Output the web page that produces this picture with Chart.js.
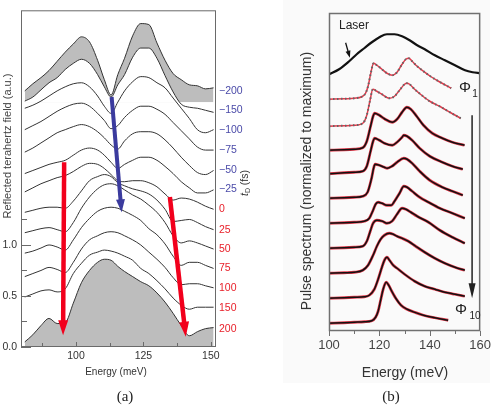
<!DOCTYPE html>
<html><head><meta charset="utf-8">
<script src="https://cdn.jsdelivr.net/npm/chart.js@4.4.1/dist/chart.umd.min.js"></script>
<style>
body{margin:0;background:#fff;width:498px;height:406px;overflow:hidden;position:relative;font-family:"Liberation Sans",Arial,sans-serif;}
.t{position:absolute;white-space:nowrap;line-height:1;transform:translate(-50%,-50%);}
.r{position:absolute;white-space:nowrap;text-align:center;transform:rotate(-90deg);transform-origin:50% 50%;}
#bgB{position:absolute;left:283px;top:0;width:207px;height:383px;background:#fafafa;}
canvas{position:absolute;top:0;}
.cap{font-family:"Liberation Serif","DejaVu Serif",serif;font-size:15px;color:#222;}
</style></head><body>
<div id="bgB"></div>
<canvas id="cA" width="250" height="380" style="left:0"></canvas>
<canvas id="cB" width="248" height="380" style="left:250px"></canvas>

<div class="r" style="left:-83px;top:140px;width:180px;height:12px;line-height:12px;font-size:11px;color:#444">Reflected terahertz field (a.u.)</div>
<div class="t" style="left:116px;top:372px;font-size:10px;color:#333">Energy (meV)</div>
<div class="r" style="left:214px;top:177px;width:60px;height:12px;line-height:12px;font-size:10.5px;color:#333"><i>t</i><span style="font-size:7px;position:relative;top:2px">D</span> (fs)</div>
<div class="t cap" style="left:125px;top:396px">(a)</div>

<div class="r" style="left:156px;top:174px;width:300px;height:14px;line-height:14px;font-size:14px;color:#333">Pulse spectrum (normalized to maximum)</div>
<div class="t" style="left:405px;top:372px;font-size:14px;color:#333">Energy (meV)</div>
<div class="t" style="left:354px;top:25px;font-size:12px;color:#222">Laser</div>
<div class="t" style="left:465px;top:86px;font-size:15px;color:#222">Φ</div>
<div class="t" style="left:475px;top:94px;font-size:10px;color:#222">1</div>
<div class="t" style="left:461px;top:308px;font-size:15px;color:#222">Φ</div>
<div class="t" style="left:475px;top:316px;font-size:10px;color:#222">10</div>
<div class="t cap" style="left:391px;top:396px">(b)</div>

<script>
// ---------- Panel (a) data ----------
const energyA = [81,84,87,90,93,96,99,102,105,108,110.5,113,115.5,118,121,124,127,130,133,136,139,142,145,148,151];
const fieldM200 = [2.51,2.58,2.64,2.71,2.80,2.89,2.97,3.04,2.99,2.81,2.62,2.47,2.67,2.83,3.05,3.17,3.16,2.98,2.81,2.68,2.62,2.57,2.56,2.53,2.54];
const fieldM150 = [2.41,2.45,2.52,2.59,2.64,2.72,2.78,2.82,2.78,2.67,2.55,2.45,2.57,2.67,2.84,2.93,2.93,2.83,2.66,2.50,2.38,2.35,2.34,2.32,2.30];
const fieldM100 = [2.34,2.37,2.41,2.46,2.51,2.55,2.58,2.59,2.55,2.46,2.36,2.29,2.40,2.51,2.60,2.65,2.64,2.59,2.54,2.44,2.34,2.24,2.13,2.10,2.13];
const fieldM75  = [2.13,2.17,2.21,2.26,2.31,2.35,2.38,2.39,2.36,2.29,2.22,2.14,2.17,2.25,2.32,2.36,2.36,2.33,2.28,2.20,2.12,2.04,1.96,1.93,1.93];
const fieldM50  = [1.91,1.95,2.00,2.05,2.10,2.13,2.16,2.18,2.16,2.11,2.05,1.98,1.94,2.02,2.09,2.11,2.11,2.09,2.03,1.95,1.86,1.78,1.71,1.69,1.73];
const fieldM25  = [1.70,1.73,1.76,1.79,1.81,1.83,1.88,1.93,1.95,1.93,1.88,1.81,1.75,1.79,1.83,1.86,1.86,1.83,1.77,1.70,1.62,1.56,1.51,1.51,1.54];
const field0    = [1.52,1.56,1.60,1.63,1.66,1.68,1.72,1.77,1.80,1.79,1.75,1.69,1.63,1.62,1.63,1.63,1.61,1.57,1.50,1.44,1.46,1.45,1.42,1.38,1.35];
const field25   = [1.32,1.34,1.36,1.37,1.37,1.36,1.43,1.53,1.63,1.67,1.69,1.67,1.61,1.58,1.55,1.53,1.50,1.44,1.35,1.23,1.24,1.25,1.22,1.18,1.15];
const field50   = [1.12,1.14,1.16,1.17,1.15,1.13,1.22,1.36,1.47,1.55,1.59,1.60,1.58,1.54,1.49,1.45,1.39,1.32,1.22,1.09,1.02,1.04,1.02,0.99,0.96];
const field75   = [0.92,0.94,0.97,1.00,0.98,0.95,1.05,1.17,1.26,1.33,1.36,1.37,1.36,1.33,1.29,1.24,1.16,1.10,1.01,0.89,0.80,0.83,0.83,0.80,0.77];
const field100  = [0.69,0.72,0.75,0.78,0.76,0.73,0.83,0.96,1.05,1.09,1.12,1.13,1.12,1.09,1.05,1.00,0.93,0.86,0.78,0.68,0.61,0.62,0.62,0.60,0.58];
const field150  = [0.49,0.52,0.55,0.56,0.54,0.57,0.72,0.82,0.90,0.93,0.95,0.94,0.92,0.89,0.85,0.77,0.72,0.65,0.57,0.48,0.41,0.37,0.39,0.39,0.39];
const field200  = [0.05,0.12,0.21,0.28,0.23,0.24,0.43,0.63,0.75,0.83,0.86,0.85,0.79,0.74,0.69,0.64,0.60,0.53,0.44,0.33,0.21,0.11,0.15,0.18,0.19];
const bandBase = 2.40;
const tdValues = [2.51,2.32,2.13,1.93,1.73,1.55,1.35,1.15,0.96,0.77,0.58,0.38,0.18];
const tdLabels = ['−200','−150','−100','−75','−50','−25','0','25','50','75','100','150','200'];
const xTicksA = [100,125,150], xMinorA = [87.5,112.5,137.5];
const yTicksA = [0,0.5,1.0], yMinorA = [0.25,0.75,1.25];
const arrowBlueE = [113.2,116.9], arrowBlueV = [2.45,1.32];
const arrowRedLE = [95.6,95.2], arrowRedLV = [1.81,0.115];
const arrowRedRE = [134.8,140.7], arrowRedRV = [1.47,0.10];

// ---------- Panel (b) data ----------
const laser = [[100,10.27],[104,10.47],[108,10.79],[111,11.07],[114,11.31],[117,11.55],[120,11.75],[123,11.87],[126,11.87],[129,11.79],[132,11.63],[135,11.43],[138,11.27],[142,11.03],[146,10.83],[150,10.63],[154,10.43],[157,10.35],[160,10.31]];
const phi1 = [[100,9.27],[106,9.29],[110,9.31],[113,9.37],[114.5,9.51],[115.5,9.79],[116.5,10.27],[117.7,10.71],[119,10.63],[121,10.47],[123,10.31],[125.1,10.23],[127,10.35],[129,10.67],[130.5,10.87],[131.7,10.91],[133,10.79],[135,10.59],[137.5,10.39],[140.2,10.19],[144,9.96],[148.5,9.71]];
const phi2 = [[100,8.19],[106,8.21],[110,8.23],[113.4,8.31],[115,8.63],[116.3,9.23],[117.4,9.67],[119,9.59],[121,9.47],[124,9.31],[126,9.39],[128,9.63],[130,9.87],[130.9,9.91],[132,9.87],[134,9.67],[136.8,9.43],[140,9.19],[144.6,8.95],[148,8.75],[152.3,8.51]];
const phi3 = [[100,7.23],[106,7.25],[110,7.27],[113.4,7.33],[115,7.59],[116.5,8.19],[117.5,8.59],[118.1,8.71],[120,8.63],[122,8.49],[125.1,8.35],[127,8.47],[129,8.75],[130.9,8.95],[132.5,8.87],[134.8,8.59],[137.5,8.23],[141,7.91],[145,7.71],[149,7.55],[153.8,7.43]];
const phi4 = [[100,6.29],[106,6.33],[110,6.35],[113.4,6.39],[115,6.59],[116.5,7.19],[117.5,7.59],[118.1,7.71],[120,7.63],[122,7.51],[125.1,7.43],[127,7.55],[129,7.75],[129.7,7.83],[131,7.79],[133,7.63],[136,7.31],[140,6.99],[145,6.75],[149,6.59],[153.1,6.47]];
const phi5 = [[100,5.31],[106,5.33],[110,5.35],[113.4,5.39],[115.3,5.55],[116.9,6.11],[117.7,6.51],[118.3,6.67],[120,6.63],[122,6.55],[123.1,6.51],[125,6.59],[127,6.75],[129.7,6.91],[131,6.87],[133,6.71],[136,6.39],[140,6.03],[145,5.75],[149,5.59],[153.1,5.43]];
const phi6 = [[100,4.31],[106,4.33],[110,4.35],[114,4.39],[116,4.51],[117.5,4.83],[118.5,5.07],[119.5,5.15],[121,5.11],[123,5.03],[124.7,5.03],[126,5.19],[128,5.51],[129.7,5.79],[131,5.75],[133,5.59],[136,5.35],[139.5,5.15],[144,4.91],[149,4.71],[153.9,4.51]];
const phi7 = [[100,3.31],[106,3.33],[110,3.35],[113.4,3.39],[115,3.59],[116.5,4.03],[117.5,4.31],[119,4.43],[121.2,4.39],[123,4.31],[125,4.39],[127,4.67],[129,4.91],[130.5,4.87],[132.5,4.75],[135,4.59],[139.5,4.35],[144,4.03],[149,3.75],[153.9,3.51]];
const phi8 = [[100,2.31],[106,2.33],[110,2.35],[113.4,2.43],[115.5,2.63],[117.5,3.03],[119,3.39],[120.5,3.67],[122,3.83],[123.9,3.91],[125.5,3.87],[127,3.79],[129,3.71],[131.5,3.59],[134.4,3.39],[138,3.15],[142,2.91],[146,2.71],[150,2.55],[153.9,2.43]];
const phi9 = [[100,1.31],[106,1.33],[110,1.35],[114,1.37],[116,1.43],[118,1.67],[119.5,2.07],[121,2.55],[122,2.83],[123,2.95],[124,2.83],[125.5,2.63],[127,2.51],[130,2.27],[134,1.99],[138,1.79],[142,1.67],[146,1.55],[150,1.47],[153.9,1.39]];
const phi10 = [[100,0.31],[106,0.33],[110,0.35],[114,0.37],[117,0.41],[118.5,0.55],[119.5,0.79],[120.5,1.23],[121.5,1.67],[122.7,1.95],[123.7,1.83],[124.7,1.63],[126.5,1.31],[128.6,1.03],[131,0.87],[134,0.75],[137.5,0.63],[142,0.53],[147.3,0.43]];
const xTicksB = [100,120,140,160], xMinorB = [110,130,150];
const arrowLaserE = [106.6,108.3], arrowLaserV = [11.53,10.93];
const arrowPhiE = [156.8,156.8], arrowPhiV = [8.63,1.31];

Chart.defaults.font.family = '"Liberation Sans", Arial, sans-serif';

const frameTicks = {
  id: 'frameTicks',
  afterDraw(chart, args, o) {
    const {ctx, chartArea: a, scales} = chart;
    ctx.save();
    ctx.strokeStyle = o.color; ctx.lineWidth = o.width;
    ctx.strokeRect(a.left + 0.5, a.top + 0.5, a.right - a.left - 1, a.bottom - a.top - 1);
    ctx.lineWidth = 1;
    const d = o.inward ? -1 : 1;
    const xt = (list, len) => list.forEach(v => {
      const px = Math.round(scales.x.getPixelForValue(v)) + 0.5;
      ctx.beginPath(); ctx.moveTo(px, a.bottom); ctx.lineTo(px, a.bottom + d * len); ctx.stroke();
    });
    const yt = (list, len) => list.forEach(v => {
      const py = Math.round(scales.y.getPixelForValue(v)) + 0.5;
      ctx.beginPath(); ctx.moveTo(a.left, py); ctx.lineTo(a.left - d * len, py); ctx.stroke();
    });
    xt(o.xMajor || [], o.xMajorLen); xt(o.xMinor || [], o.xMinorLen);
    yt(o.yMajor || [], o.yMajorLen); yt(o.yMinor || [], o.yMinorLen);
    ctx.restore();
  }
};

const arrows = {
  id: 'arrows',
  afterDatasetsDraw(chart, args, o) {
    const {ctx, scales: {x, y}} = chart;
    (o.list || []).forEach(ar => {
      const x0 = x.getPixelForValue(ar.e[0]), y0 = y.getPixelForValue(ar.v[0]);
      const x1 = x.getPixelForValue(ar.e[1]), y1 = y.getPixelForValue(ar.v[1]);
      const ang = Math.atan2(y1 - y0, x1 - x0), ux = Math.cos(ang), uy = Math.sin(ang);
      const bx = x1 - ux * ar.headL, by = y1 - uy * ar.headL;
      ctx.save();
      ctx.strokeStyle = ar.color; ctx.fillStyle = ar.color; ctx.lineWidth = ar.width; ctx.lineCap = 'butt';
      ctx.beginPath(); ctx.moveTo(x0, y0); ctx.lineTo(bx + ux, by + uy); ctx.stroke();
      ctx.beginPath(); ctx.moveTo(x1, y1);
      ctx.lineTo(bx - uy * ar.headW / 2, by + ux * ar.headW / 2);
      ctx.lineTo(bx + uy * ar.headW / 2, by - ux * ar.headW / 2);
      ctx.closePath(); ctx.fill();
      ctx.restore();
    });
  }
};

// ---------- Chart A ----------
const lineA = (vals, extra) => Object.assign({
  data: energyA.map((e, i) => ({x: e, y: vals[i]})),
  borderColor: '#333', borderWidth: 1, pointRadius: 0, fill: false,
  cubicInterpolationMode: 'monotone', order: 1
}, extra);

const transparent = 'rgba(0,0,0,0)';
const dsA = [
  lineA(fieldM200, {order: 3, fill: {target: {value: bandBase}, above: '#bdbdbd', below: transparent}}),
  lineA(fieldM150, {order: 2, fill: {target: {value: bandBase}, above: '#ffffff', below: transparent}}),
  lineA(fieldM100), lineA(fieldM75), lineA(fieldM50), lineA(fieldM25),
  lineA(field0), lineA(field25), lineA(field50), lineA(field75),
  lineA(field100), lineA(field150),
  lineA(field200, {fill: {target: 'origin', above: '#bdbdbd', below: '#bdbdbd'}})
];

new Chart(document.getElementById('cA'), {
  type: 'line',
  data: {datasets: dsA},
  plugins: [frameTicks, arrows],
  options: {
    responsive: false, animation: false, devicePixelRatio: 1,
    layout: {padding: {top: 10, left: 0, right: 0, bottom: 0}},
    plugins: {
      legend: {display: false}, tooltip: {enabled: false},
      frameTicks: {color: '#6a6a6a', width: 1, inward: true,
        xMajor: xTicksA, xMinor: xMinorA, xMajorLen: 5, xMinorLen: 4,
        yMajor: yTicksA, yMinor: yMinorA, yMajorLen: 10, yMinorLen: 6},
      arrows: {list: [
        {e: arrowBlueE, v: arrowBlueV, color: '#3b3b9e', width: 4, headW: 9, headL: 13},
        {e: arrowRedLE, v: arrowRedLV, color: '#f2001c', width: 4.5, headW: 10, headL: 15},
        {e: arrowRedRE, v: arrowRedRV, color: '#f2001c', width: 4.5, headW: 10, headL: 15}
      ]}
    },
    scales: {
      x: {type: 'linear', min: 79.6, max: 151.9,
        afterFit(s) { s.height = 33; },
        afterBuildTicks(s) { s.ticks = xTicksA.map(v => ({value: v})); },
        grid: {display: false, drawTicks: false}, border: {display: false},
        ticks: {font: {size: 10.5}, color: '#333', padding: 3, maxRotation: 0, autoSkip: false}},
      y: {type: 'linear', min: 0, max: 3.30,
        afterFit(s) { s.width = 21; },
        afterBuildTicks(s) { s.ticks = yTicksA.map(v => ({value: v})); },
        grid: {display: false, drawTicks: false}, border: {display: false},
        ticks: {font: {size: 10.5}, color: '#333', padding: 4, autoSkip: false, callback: v => Number(v).toFixed(1)}},
      y2: {type: 'linear', position: 'right', min: 0, max: 3.30,
        afterFit(s) { s.width = 34; },
        afterBuildTicks(s) { s.ticks = tdValues.map(v => ({value: v})); },
        grid: {display: false, drawTicks: false}, border: {display: false},
        ticks: {font: {size: 10.5}, padding: 3, autoSkip: false,
          color: c => (c.index < 6 ? '#4a4aa8' : '#e8202a'),
          callback: (v, i) => tdLabels[i]}}
    }
  }
});

// ---------- Chart B ----------
const pts = arr => arr.map(p => ({x: p[0], y: p[1]}));
const base = {pointRadius: 0, fill: false, cubicInterpolationMode: 'monotone'};
const dsB = [
  Object.assign({data: pts(laser), borderColor: '#111', borderWidth: 2.2, order: 1}, base)
];
[phi1, phi2].forEach(p => {
  dsB.push(Object.assign({data: pts(p), borderColor: '#e2394a', borderWidth: 1.5, order: 2}, base));
  dsB.push(Object.assign({data: pts(p), borderColor: '#666', borderWidth: 2, borderDash: [1.5, 2.5], order: 1}, base));
});
[phi3, phi4, phi5, phi6, phi7, phi8, phi9, phi10].forEach(p => {
  dsB.push(Object.assign({data: pts(p), borderColor: '#e2394a', borderWidth: 2.8, order: 2}, base));
  dsB.push(Object.assign({data: pts(p), borderColor: '#111', borderWidth: 1.5, order: 1}, base));
});

new Chart(document.getElementById('cB'), {
  type: 'line',
  data: {datasets: dsB},
  plugins: [frameTicks, arrows],
  options: {
    responsive: false, animation: false, devicePixelRatio: 1,
    layout: {padding: {top: 13, left: 0, right: 16, bottom: 0}},
    plugins: {
      legend: {display: false}, tooltip: {enabled: false},
      frameTicks: {color: '#707070', width: 1.5, inward: false,
        xMajor: xTicksB, xMinor: xMinorB, xMajorLen: 5, xMinorLen: 3},
      arrows: {list: [
        {e: arrowLaserE, v: arrowLaserV, color: '#111', width: 1.3, headW: 5, headL: 7},
        {e: arrowPhiE, v: arrowPhiV, color: '#222', width: 1.5, headW: 7, headL: 15}
      ]}
    },
    scales: {
      x: {type: 'linear', min: 100, max: 160,
        afterFit(s) { s.height = 49; },
        afterBuildTicks(s) { s.ticks = xTicksB.map(v => ({value: v})); },
        grid: {display: false, drawTicks: false}, border: {display: false},
        ticks: {font: {size: 13}, color: '#444', padding: 7, maxRotation: 0, autoSkip: false}},
      y: {type: 'linear', min: 0, max: 12.72,
        afterFit(s) { s.width = 79; },
        grid: {display: false, drawTicks: false}, border: {display: false},
        ticks: {display: false}}
    }
  }
});
</script>
</body></html>
